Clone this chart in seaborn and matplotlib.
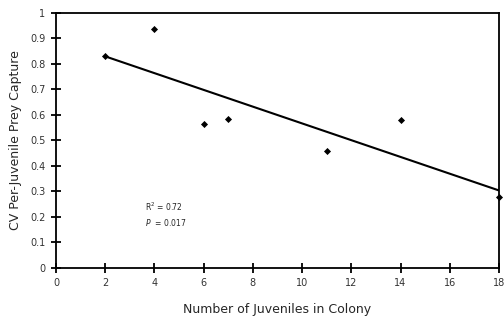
import numpy as np
import pandas as pd
import seaborn as sns
import matplotlib.pyplot as plt

# Данные
juveniles = [2, 4, 6, 7, 11, 14, 18]
cv_capture = [0.832, 0.937, 0.562, 0.583, 0.457, 0.578, 0.276]
x_ticks = list(range(0, 19, 2))
y_ticks = [0, 0.1, 0.2, 0.3, 0.4, 0.5, 0.6, 0.7, 0.8, 0.9, 1]
y_tick_labels = ['0', '0.1', '0.2', '0.3', '0.4', '0.5', '0.6', '0.7', '0.8', '0.9', '1']

df = pd.DataFrame({'juveniles': juveniles, 'cv': cv_capture})

sns.set_theme(style='ticks')
plt.rcParams['font.family'] = ['DejaVu Sans']

fig = plt.figure(figsize=(5.04, 3.18), dpi=100)
ax = fig.add_axes([0.111, 0.158, 0.879, 0.802])

# Точки и линия регрессии
sns.regplot(x='juveniles', y='cv', data=df, ci=None, ax=ax,
            marker='D', truncate=True,
            scatter_kws={'s': 13, 'color': 'black', 'linewidths': 0,
                         'alpha': 1, 'zorder': 3, 'clip_on': False},
            line_kws={'color': 'black', 'linewidth': 1.5, 'zorder': 2})

ax.set_xlim(0, 18)
ax.set_ylim(0, 1)
ax.set_xticks(x_ticks)
ax.set_yticks(y_ticks)
ax.set_yticklabels(y_tick_labels)
ax.tick_params(direction='inout', length=7, width=1.3, labelsize=7,
               color='black', labelcolor='#333333', pad=4)

for side in ['left', 'bottom', 'top', 'right']:
    ax.spines[side].set_visible(True)
    ax.spines[side].set_color('black')
    ax.spines[side].set_linewidth(1.3)

ax.set_xlabel('Number of Juveniles in Colony', fontsize=9, labelpad=11)
ax.set_ylabel('CV Per-Juvenile Prey Capture', fontsize=9, labelpad=6)

# Статистика
ax.text(3.62, 0.239, r'R$^2$ = 0.72', fontsize=5.5, ha='left', va='center')
ax.text(3.62, 0.178, r'$\it{P}$  = 0.017', fontsize=5.5, ha='left', va='center')

fig.savefig('out.png', dpi=100)
